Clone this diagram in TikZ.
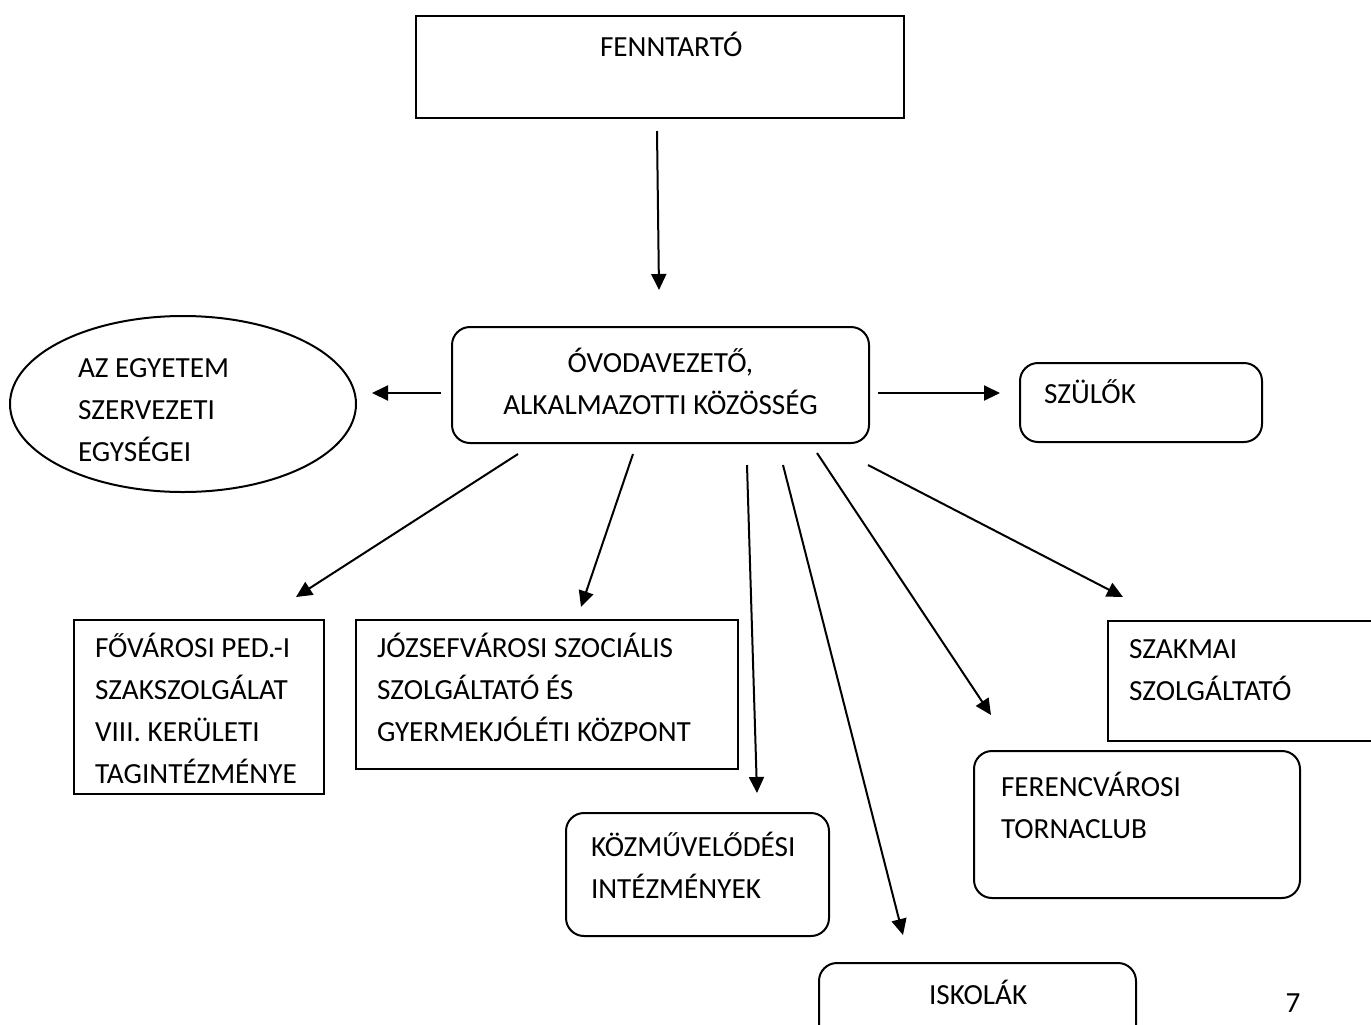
\documentclass[tikz,border=0pt]{standalone}
\usepackage{fontspec}
\setmainfont{Carlito}
\usetikzlibrary{shapes.geometric,arrows.meta}
\newlength{\pxu}\setlength{\pxu}{0.5pt}
\newcommand{\boxfont}{\fontsize{14.6}{21}\selectfont}
% width, height, left pad, first baseline, text (in px)
\newcommand{\boxtext}[5]{\parbox[c][#2\pxu][t]{#1\pxu}{\hyphenpenalty=10000\raggedright\leftskip=#3\pxu\rule{0pt}{#4\pxu}#5\par}}

\begin{document}
\begin{tikzpicture}[x=0.5pt,y=-0.5pt,
  box/.style={draw,line width=1pt,inner sep=0pt,anchor=north west,font=\boxfont},
  rbox/.style={box,rounded corners=9pt},
  arr/.style={-{Triangle[length=8pt,width=7.5pt]},line width=1pt}]
\useasboundingbox (0,0) rectangle (1371,1024);

% Boxes
\node[box] (fenntarto) at (415,15) {\boxtext{488}{102}{184}{40}{FENNTARTÓ}};
\node[rbox] (ovoda) at (451,326) {\boxtext{417}{116}{0}{45}{\centering ÓVODAVEZETŐ,\\ALKALMAZOTTI KÖZÖSSÉG}};
\node[ellipse,draw,line width=1pt,inner sep=0pt,minimum width=173pt,minimum height=88pt,font=\boxfont] (egyetem) at (183,404) {\boxtext{210}{100}{0}{23.5}{AZ EGYETEM\\SZERVEZETI\\EGYSÉGEI}};
\node[rbox] (szulok) at (1019,362) {\boxtext{242}{79}{24}{40}{SZÜLŐK}};
\node[box] (fovarosi) at (73,619) {\boxtext{250}{174}{21}{37}{FŐVÁROSI PED.-I\\SZAKSZOLGÁLAT\\VIII. KERÜLETI\\TAGINTÉZMÉNYE}};
\node[box] (jozsefvarosi) at (355,619) {\boxtext{382}{149}{21}{37}{JÓZSEFVÁROSI SZOCIÁLIS\\SZOLGÁLTATÓ ÉS\\GYERMEKJÓLÉTI KÖZPONT}};
\node[rbox] (kozmuvelodesi) at (565,812) {\boxtext{263}{123}{25}{43}{KÖZMŰVELŐDÉSI\\INTÉZMÉNYEK}};
\node[rbox] (ferencvarosi) at (973,750) {\boxtext{326}{147}{27}{45}{FERENCVÁROSI\\TORNACLUB}};
\node[box] (szakmai) at (1107,620) {\boxtext{300}{120}{21}{37}{SZAKMAI\\SZOLGÁLTATÓ}};
\node[rbox] (iskolak) at (818,962) {\boxtext{317}{100}{110}{41}{ISKOLÁK}};
\node[font=\boxfont] (oldal) at (1293,1003) {7};

% Arrow ends
\coordinate (fenntarto-ki) at (657,131);
\coordinate (ovoda-be) at (659,290);
\coordinate (ovoda-bal) at (441,393);
\coordinate (egyetem-be) at (372,393);
\coordinate (ovoda-jobb) at (878,393);
\coordinate (szulok-be) at (1000,393);
\coordinate (ovoda-1) at (518,454);
\coordinate (fovarosi-be) at (296,597);
\coordinate (ovoda-2) at (633,454);
\coordinate (jozsefvarosi-be) at (581,607);
\coordinate (ovoda-3) at (747,465);
\coordinate (kozmuvelodesi-be) at (757,793);
\coordinate (ovoda-4) at (783,465);
\coordinate (iskolak-be) at (903,935);
\coordinate (ovoda-5) at (817,453);
\coordinate (ferencvarosi-be) at (991,715);
\coordinate (ovoda-6) at (868,465);
\coordinate (szakmai-be) at (1123,597);

% Connections
\draw[arr] (fenntarto-ki) -- (ovoda-be);
\draw[arr] (ovoda-bal) -- (egyetem-be);
\draw[arr] (ovoda-jobb) -- (szulok-be);
\draw[arr] (ovoda-1) -- (fovarosi-be);
\draw[arr] (ovoda-2) -- (jozsefvarosi-be);
\draw[arr] (ovoda-3) -- (kozmuvelodesi-be);
\draw[arr] (ovoda-4) -- (iskolak-be);
\draw[arr] (ovoda-5) -- (ferencvarosi-be);
\draw[arr] (ovoda-6) -- (szakmai-be);
\end{tikzpicture}
\end{document}
